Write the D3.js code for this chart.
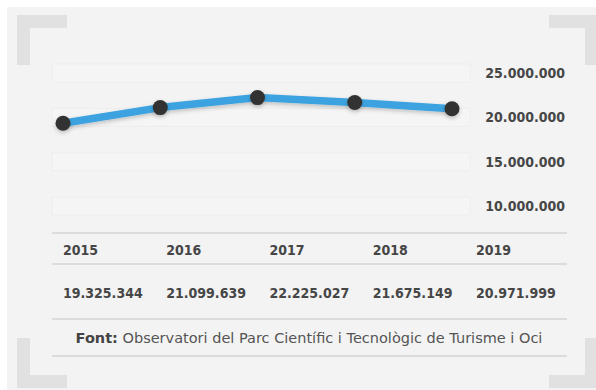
<!DOCTYPE html>
<html>
<head>
<meta charset="utf-8">
<script src="https://cdn.jsdelivr.net/npm/d3@7"></script>
<style>
  html, body { margin: 0; padding: 0; background: #ffffff; }
  svg { display: block; }
  .num { font-family: "DejaVu Sans Condensed", "DejaVu Sans", sans-serif; font-weight: bold; font-size: 14px; fill: #464646; }
  .foot { font-family: "DejaVu Sans", sans-serif; font-size: 14.5px; fill: #555555; }
</style>
</head>
<body>
<svg id="chart" width="596" height="390"></svg>
<script>
// Visitors per year
const years = ["2015", "2016", "2017", "2018", "2019"];
const visitors = [19325344, 21099639, 22225027, 21675149, 20971999];
const yTicks = [10000000, 15000000, 20000000, 25000000];
const sourceLabel = "Font:";
const sourceText = " Observatori del Parc Científic i Tecnològic de Turisme i Oci";

const W = 596, H = 390;
const svg = d3.select("#chart");

const locale = d3.formatLocale({ decimal: ",", thousands: ".", grouping: [3], currency: ["", "€"] });
const fmt = locale.format(",d");

// drop shadow for line and markers
const defs = svg.append("defs");
const sh = defs.append("filter").attr("id", "soft").attr("x", "-20%").attr("y", "-50%").attr("width", "140%").attr("height", "200%");
sh.append("feDropShadow").attr("dx", 0).attr("dy", 2).attr("stdDeviation", 2).attr("flood-color", "#000").attr("flood-opacity", 0.22);

// panel background
svg.append("rect").attr("x", 7).attr("y", 7).attr("width", W - 7).attr("height", H - 7).attr("fill", "#f3f3f3");

// corner brackets
const bc = "#e1e1e1", t = 13, arm = 50;
const brackets = svg.append("g").attr("fill", bc);
// top-left
brackets.append("rect").attr("x", 17).attr("y", 15).attr("width", arm).attr("height", t);
brackets.append("rect").attr("x", 17).attr("y", 15).attr("width", t).attr("height", arm);
// top-right
brackets.append("rect").attr("x", 549).attr("y", 15).attr("width", arm).attr("height", t);
brackets.append("rect").attr("x", 585).attr("y", 15).attr("width", t).attr("height", arm);
// bottom-left
brackets.append("rect").attr("x", 17).attr("y", 375).attr("width", arm).attr("height", t);
brackets.append("rect").attr("x", 17).attr("y", 338).attr("width", t).attr("height", arm);
// bottom-right
brackets.append("rect").attr("x", 549).attr("y", 375).attr("width", arm).attr("height", t);
brackets.append("rect").attr("x", 585).attr("y", 338).attr("width", t).attr("height", arm);

// scales
const x = d3.scalePoint().domain(years).range([63, 452]);
const y = d3.scaleLinear().domain([10000000, 25000000]).range([206, 73]);

// faint bands behind each tick
svg.append("g").selectAll("rect").data(yTicks).join("rect")
  .attr("x", 52).attr("width", 418)
  .attr("y", d => y(d) - 9).attr("height", 18)
  .attr("fill", "#f5f5f5").attr("stroke", "#eeeeee").attr("stroke-width", 1);

// y axis labels on the right
const yAxis = d3.axisRight(y).tickValues(yTicks).tickFormat(fmt).tickSize(0).tickPadding(0);
const ya = svg.append("g").attr("transform", "translate(565,0)").call(yAxis);
ya.select(".domain").remove();
ya.selectAll("text").attr("class", "num").attr("text-anchor", "end").attr("x", 0).attr("fill", null).attr("font-size", null).attr("font-family", null);

// line
const line = d3.line().x((d, i) => x(years[i])).y(d => y(d));
svg.append("path").datum(visitors)
  .attr("d", line)
  .attr("fill", "none")
  .attr("stroke", "#3ca3e0")
  .attr("stroke-width", 7.5)
  .attr("stroke-linejoin", "round")
  .attr("filter", "url(#soft)");

svg.append("g").selectAll("circle").data(visitors).join("circle")
  .attr("cx", (d, i) => x(years[i]))
  .attr("cy", d => y(d))
  .attr("r", 7.5)
  .attr("fill", "#333333")
  .attr("filter", "url(#soft)");

// table
const col = d3.scalePoint().domain(years).range([63, 476]);
svg.append("g").selectAll("line").data([233, 264, 319, 356]).join("line")
  .attr("x1", 52).attr("x2", 567).attr("y1", d => d).attr("y2", d => d)
  .attr("stroke", "#dcdcdc").attr("stroke-width", 2);

svg.append("g").selectAll("text").data(years).join("text")
  .attr("class", "num")
  .attr("x", d => col(d)).attr("y", 255)
  .text(d => d);

svg.append("g").selectAll("text").data(visitors).join("text")
  .attr("class", "num")
  .attr("x", (d, i) => col(years[i])).attr("y", 298)
  .text(d => fmt(d));

// source note
const foot = svg.append("text").attr("class", "foot").attr("x", 309).attr("y", 343).attr("text-anchor", "middle");
foot.append("tspan").attr("font-weight", "bold").attr("fill", "#444").text(sourceLabel);
foot.append("tspan").text(sourceText);
</script>
</body>
</html>
